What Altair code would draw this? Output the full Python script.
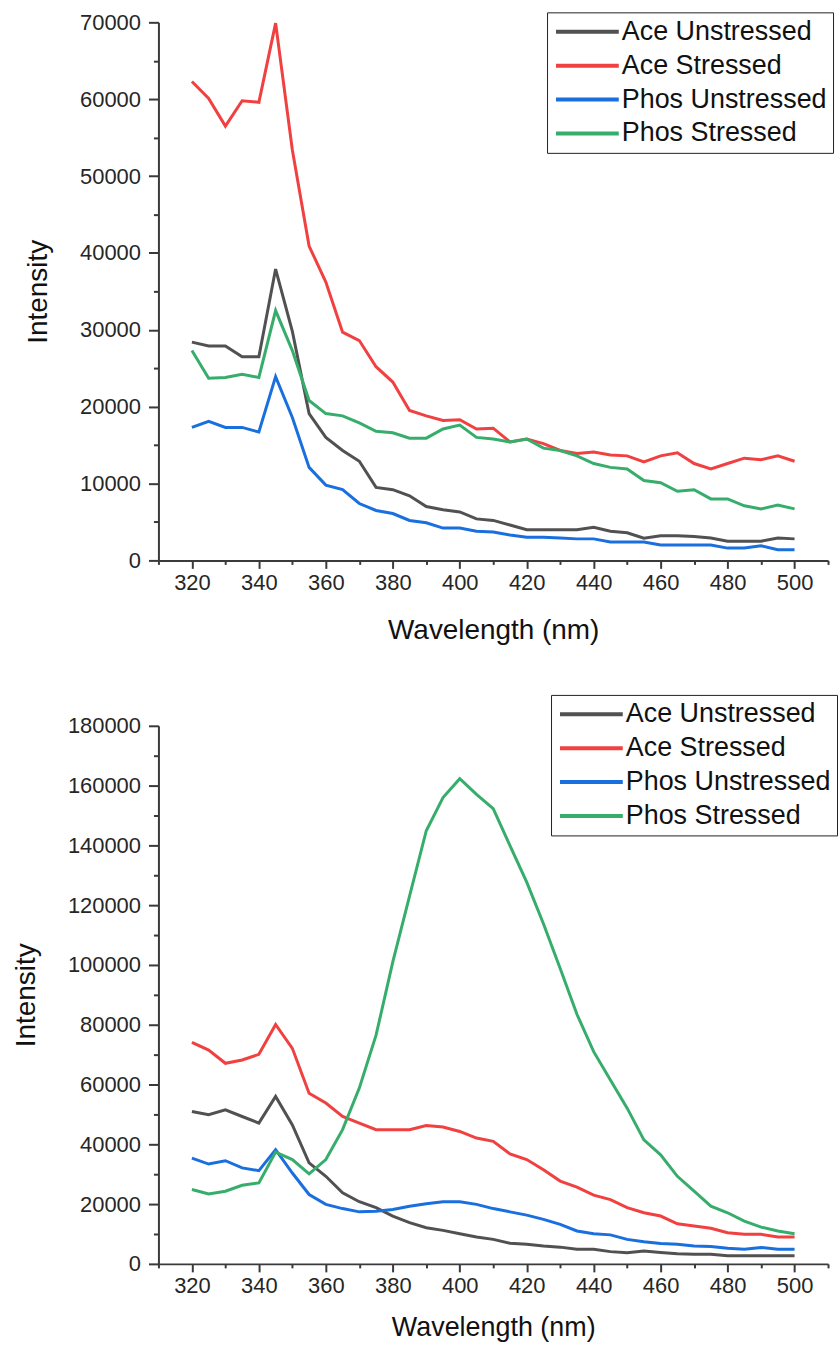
import altair as alt
import pandas as pd

wavelength = list(range(320, 505, 5))
series_names = ["Ace Unstressed", "Ace Stressed", "Phos Unstressed", "Phos Stressed"]
series_colors = ["#515151", "#F14040", "#1A6FDF", "#37AD6B"]

# ---- top panel ----
top_ace_unstressed = [28400, 27900, 27900, 26500, 26500, 37900, 29800, 19100, 16000, 14300,
                      12900, 9500, 9200, 8400, 7000, 6600, 6300, 5400, 5200, 4600,
                      4000, 4000, 4000, 4000, 4300, 3800, 3600, 2900, 3200, 3200,
                      3100, 2900, 2500, 2500, 2500, 2900, 2800]
top_ace_stressed = [62300, 60100, 56500, 59800, 59600, 69900, 53400, 40900, 36200, 29700,
                    28600, 25200, 23200, 19500, 18800, 18200, 18300, 17100, 17200, 15400,
                    15800, 15200, 14300, 13900, 14100, 13700, 13600, 12800, 13600, 14000,
                    12600, 11900, 12600, 13300, 13100, 13600, 12900]
top_phos_unstressed = [17300, 18100, 17300, 17300, 16700, 23900, 18600, 12100, 9800, 9200,
                       7400, 6500, 6100, 5200, 4900, 4200, 4200, 3800, 3700, 3300,
                       3000, 3000, 2900, 2800, 2800, 2400, 2400, 2400, 2000, 2000,
                       2000, 2000, 1600, 1600, 1900, 1400, 1400]
top_phos_stressed = [27300, 23700, 23800, 24200, 23800, 32500, 27300, 20800, 19100, 18800,
                     17900, 16800, 16600, 15900, 15900, 17100, 17600, 16000, 15800, 15400,
                     15800, 14600, 14300, 13600, 12600, 12100, 11900, 10400, 10100, 9000,
                     9200, 8000, 8000, 7100, 6700, 7200, 6700]

# ---- bottom panel ----
bot_ace_unstressed = [51000, 49900, 51500, 49300, 47100, 56000, 46500, 33800, 29300, 23800,
                      20800, 18800, 16000, 13800, 12100, 11200, 10100, 9000, 8200, 6900,
                      6600, 6000, 5600, 4900, 4900, 4100, 3700, 4300, 3800, 3400,
                      3200, 3200, 2700, 2700, 2700, 2700, 2700]
bot_ace_stressed = [74100, 71500, 67100, 68200, 70100, 80100, 72100, 57100, 53800, 49300,
                    47100, 44900, 44900, 44900, 46300, 45800, 44300, 42100, 41000, 36800,
                    34900, 31500, 27700, 25700, 23000, 21500, 18800, 17100, 16000, 13400,
                    12700, 11900, 10400, 9900, 9900, 9000, 9000]
bot_phos_unstressed = [35400, 33400, 34500, 32100, 31200, 38200, 30400, 23200, 19900, 18500,
                       17400, 17600, 18200, 19300, 20100, 20800, 20800, 19900, 18500, 17400,
                       16300, 14900, 13200, 11000, 10100, 9700, 8200, 7400, 6800, 6600,
                       6000, 5800, 5200, 4900, 5500, 4900, 4900]
bot_phos_stressed = [24900, 23400, 24300, 26300, 27100, 37400, 34900, 30100, 34900, 44900,
                     58800, 76500, 101000, 123000, 144900, 156000, 162300, 157100, 152300, 139900,
                     127700, 113800, 98800, 83500, 71000, 61500, 52100, 41500, 36500, 29300,
                     24300, 19300, 17100, 14300, 12300, 11000, 10100]

x_tick_values = list(range(310, 511, 10))
top_y_ticks = list(range(0, 70001, 5000))
bot_y_ticks = list(range(0, 180001, 10000))

FONT = "Liberation Sans"
AXIS_COLOR = "#3a3a3a"


def long_df(cols):
    rows = []
    for name, vals in zip(series_names, cols):
        for w, v in zip(wavelength, vals):
            rows.append({"Wavelength": w, "Intensity": v, "Series": name})
    return pd.DataFrame(rows)


def panel(df, ymax, yticks, ymajor, legend_x, legend_y, x_title_size, x_title_pad):
    x_axis = alt.Axis(
        values=x_tick_values,
        labelExpr="datum.value % 20 === 0 ? datum.label : ''",
        tickSize={"condition": {"test": "datum.value % 20 === 0", "value": 8}, "value": 4},
        labelOverlap=False, labelFlush=False,
        labelFont=FONT, labelFontSize=22, labelColor="#262626", labelPadding=4,
        title="Wavelength (nm)", titleFont=FONT, titleFontSize=x_title_size,
        titleFontWeight="normal", titleColor="#111111", titlePadding=x_title_pad,
        domainColor=AXIS_COLOR, domainWidth=2, tickColor=AXIS_COLOR, tickWidth=2,
        grid=False,
    )
    y_axis = alt.Axis(
        values=yticks,
        format="d",
        labelExpr=f"datum.value % {ymajor} === 0 ? datum.label : ''",
        tickSize={"condition": {"test": f"datum.value % {ymajor} === 0", "value": 10}, "value": 5},
        labelOverlap=False, labelFlush=False,
        labelFont=FONT, labelFontSize=22, labelColor="#262626", labelPadding=8,
        title="Intensity", titleFont=FONT, titleFontSize=28,
        titleFontWeight="normal", titleColor="#111111", titlePadding=27,
        domainColor=AXIS_COLOR, domainWidth=2, tickColor=AXIS_COLOR, tickWidth=2,
        grid=False,
    )
    legend = alt.Legend(
        orient="none", legendX=legend_x, legendY=legend_y, title=None,
        strokeColor="#222222", fillColor="white", padding=6,
        symbolType="M-1,0H5", symbolStrokeWidth=4, symbolSize=441,
        labelFont=FONT, labelFontSize=27, labelColor="#111111",
        labelOffset=42, rowPadding=6, labelLimit=0,
    )
    return alt.Chart(df).mark_line(strokeWidth=3).encode(
        x=alt.X("Wavelength:Q", scale=alt.Scale(domain=[310, 510], nice=False, zero=False), axis=x_axis),
        y=alt.Y("Intensity:Q", scale=alt.Scale(domain=[0, ymax], nice=False), axis=y_axis),
        color=alt.Color("Series:N", scale=alt.Scale(domain=series_names, range=series_colors),
                        sort=series_names, legend=legend),
    ).properties(width=672, height=540)


top = panel(long_df([top_ace_unstressed, top_ace_stressed, top_phos_unstressed, top_phos_stressed]),
            70000, top_y_ticks, 10000, 390, -10, 28, 23)
bottom = panel(long_df([bot_ace_unstressed, bot_ace_stressed, bot_phos_unstressed, bot_phos_stressed]),
               180000, bot_y_ticks, 20000, 394, -31, 27, 18)

chart = alt.vconcat(top, bottom, spacing=50).resolve_scale(
    color="independent", x="independent", y="independent"
).resolve_legend(color="independent").properties(
    padding={"left": 12, "top": 9, "right": 0, "bottom": 0}
).configure_view(stroke=None)

chart.save("out.html", embed_options={"renderer": "svg", "actions": False})
